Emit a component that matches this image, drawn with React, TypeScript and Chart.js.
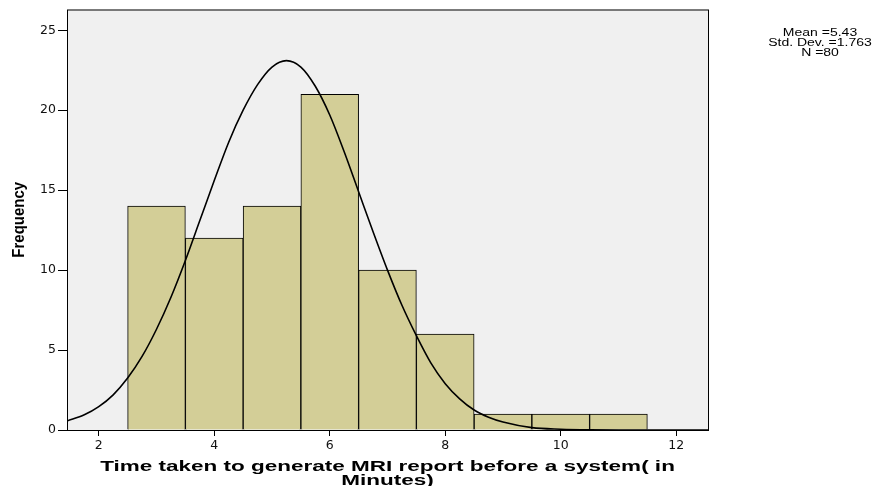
import React, { useEffect, useRef } from 'react';
import { Chart, registerables } from 'chart.js';

Chart.register(...registerables);

// Histogram bins (centres) and counts
const binCenters = [3, 4, 5, 6, 7, 8, 9, 10, 11];
const frequencies = [14, 12, 14, 21, 10, 6, 1, 1, 1];

// Normal curve
const curveX = [1.45, 1.75, 2.0, 2.25, 2.5, 2.75, 3.0, 3.25, 3.5, 3.75, 4.0, 4.25, 4.5, 4.75, 5.0, 5.25, 5.5, 5.75, 6.0, 6.25, 6.5, 6.75, 7.0, 7.25, 7.5, 7.75, 8.0, 8.25, 8.5, 8.75, 9.0, 9.5, 10.0, 10.5, 11.0, 12.55];
const curveY = [0.56, 0.95, 1.46, 2.2, 3.25, 4.6, 6.3, 8.3, 10.6, 13.1, 15.6, 18.0, 20.0, 21.6, 22.7, 23.1, 22.7, 21.5, 19.7, 17.4, 14.9, 12.4, 10.0, 7.8, 5.9, 4.2, 2.9, 1.95, 1.25, 0.8, 0.5, 0.15, 0.05, 0.01, 0, 0];

const xTicks = [2, 4, 6, 8, 10, 12];
const yTicks = [0, 5, 10, 15, 20, 25];
const xRange = [1.45, 12.55];
const yRange = [0, 26.3];

const statsLines = ['Mean =5.43', 'Std. Dev. =1.763', 'N =80'];
const xTitleLines = ['Time taken to generate MRI report before a system( in', 'Minutes)'];
const yTitle = 'Frequency';

export default function App() {
  const ref = useRef<HTMLCanvasElement>(null);

  useEffect(() => {
    const canvas = ref.current;
    if (!canvas) return;

    const framePlugin = {
      id: 'spssFrame',
      beforeDraw(chart: any) {
        const { ctx, chartArea: a } = chart;
        ctx.save();
        ctx.fillStyle = '#ffffff';
        ctx.fillRect(0, 0, chart.width, chart.height);
        ctx.fillStyle = '#f0f0f0';
        ctx.fillRect(a.left, a.top, a.right - a.left, a.bottom - a.top);
        ctx.restore();
      },
      afterDatasetsDraw(chart: any) {
        const { ctx, chartArea: a } = chart;
        ctx.save();
        ctx.strokeStyle = '#000';
        ctx.lineWidth = 1;
        ctx.strokeRect(a.left + 0.5, a.top + 0.5, a.right - a.left, a.bottom - a.top);
        ctx.restore();
      },
      afterDraw(chart: any) {
        const { ctx, chartArea: a } = chart;
        ctx.save();
        ctx.fillStyle = '#000';
        ctx.font = 'bold 15px "Liberation Sans", Arial, sans-serif';
        ctx.textAlign = 'center';
        ctx.textBaseline = 'alphabetic';
        const cx = (a.left + a.right) / 2;
        xTitleLines.forEach((line, i) => {
          ctx.save();
          ctx.translate(cx, 471 + i * 14);
          ctx.scale(1.5, 1);
          ctx.fillText(line, 0, 0);
          ctx.restore();
        });
        ctx.save();
        ctx.translate(19, (a.top + a.bottom) / 2);
        ctx.rotate(-Math.PI / 2);
        ctx.scale(1, 1.1);
        ctx.font = 'bold 15px "Liberation Sans", Arial, sans-serif';
        ctx.textBaseline = 'middle';
        ctx.fillText(yTitle, 0, 0);
        ctx.restore();
        ctx.font = '10px "Liberation Sans", Arial, sans-serif';
        statsLines.forEach((line, i) => {
          ctx.save();
          ctx.translate(820, 35.5 + i * 10);
          ctx.scale(1.4, 1);
          ctx.fillText(line, 0, 0);
          ctx.restore();
        });
        ctx.restore();
      },
    };

    const chart = new Chart(canvas, {
      type: 'bar',
      data: {
        datasets: [
          {
            type: 'line',
            label: 'Normal',
            data: curveX.map((x, i) => ({ x, y: curveY[i] })),
            borderColor: '#000',
            borderWidth: 1.6,
            pointRadius: 0,
            cubicInterpolationMode: 'monotone',
            fill: false,
            order: 1,
          } as any,
          {
            type: 'bar',
            label: 'Frequency',
            data: binCenters.map((x, i) => ({ x, y: frequencies[i] })),
            backgroundColor: '#d3ce97',
            borderColor: '#000',
            borderWidth: 1,
            borderSkipped: 'bottom',
            barPercentage: 1,
            categoryPercentage: 1,
            order: 2,
          } as any,
        ],
      },
      options: {
        animation: false,
        responsive: true,
        maintainAspectRatio: false,
        layout: { padding: { left: 0, top: 9, right: 177, bottom: 0 } },
        plugins: {
          legend: { display: false },
          tooltip: { enabled: false },
        },
        scales: {
          x: {
            type: 'linear',
            offset: false,
            min: xRange[0],
            max: xRange[1],
            afterFit: (s: any) => { s.height = 56; },
            afterBuildTicks: (s: any) => { s.ticks = xTicks.map((v) => ({ value: v })); },
            border: { display: false },
            grid: { offset: false, drawOnChartArea: false, drawTicks: true, tickLength: 6, color: '#000', tickColor: '#000' },
            ticks: { color: '#111', font: { family: '"DejaVu Sans", sans-serif', size: 12.5 }, padding: 2, maxRotation: 0 },
          },
          y: {
            type: 'linear',
            min: yRange[0],
            max: yRange[1],
            afterFit: (s: any) => { s.width = 67; },
            afterBuildTicks: (s: any) => { s.ticks = yTicks.map((v) => ({ value: v })); },
            border: { display: false },
            grid: { drawOnChartArea: false, drawTicks: true, tickLength: 9, color: '#000', tickColor: '#000' },
            ticks: { color: '#111', font: { family: '"DejaVu Sans", sans-serif', size: 12.5 }, padding: 2 },
          },
        },
      },
      plugins: [framePlugin],
    } as any);

    return () => chart.destroy();
  }, []);

  return (
    <div style={{ position: 'absolute', left: 0, top: 0, width: 885, height: 486 }}>
      <canvas ref={ref} />
    </div>
  );
}
